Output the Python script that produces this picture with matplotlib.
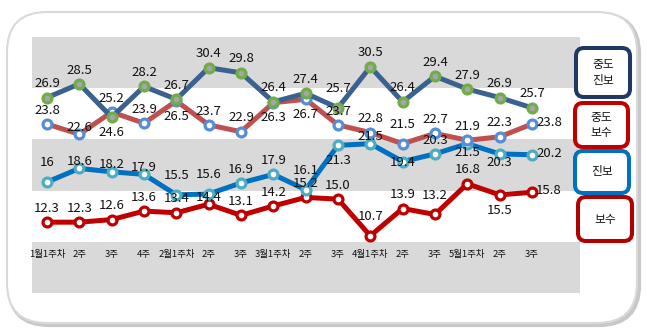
import matplotlib.pyplot as plt
from matplotlib.patches import FancyBboxPatch

plt.rcParams['font.family'] = ['Noto Sans CJK KR', 'DejaVu Sans']

# ---- data ----
weeks = ['1월1주차', '2주', '3주', '4주', '2월1주차', '2주', '3주', '3월1주차',
         '2주', '3주', '4월1주차', '2주', '3주', '5월1주차', '2주', '3주']
mid_prog = [26.9, 28.5, 24.6, 28.2, 26.7, 30.4, 29.8, 26.4, 27.4, 25.7, 30.5, 26.4, 29.4, 27.9, 26.9, 25.7]
mid_cons = [23.8, 22.6, 25.2, 23.9, 26.5, 23.7, 22.9, 26.3, 26.7, 23.7, 22.8, 21.5, 22.7, 21.9, 22.3, 23.8]
prog = [17.0, 18.6, 18.2, 17.9, 15.5, 15.6, 16.9, 17.9, 16.1, 21.3, 21.5, 19.4, 20.3, 21.5, 20.3, 20.2]
cons = [12.3, 12.3, 12.6, 13.6, 13.4, 14.4, 13.1, 14.2, 15.2, 15.0, 10.7, 13.9, 13.2, 16.8, 15.5, 15.8]
prog_label_text = {0: '16'}  # label typed on the original chart

# label placement codes: a above, A high above, c close above, b below,
# d just below, o on point, r right
mid_prog_pos = 'aabaaaaaaAaaaaaa'
mid_cons_pos = 'acaabaabbaaAaaar'
prog_pos = 'AcccAAaaAbcoaddr'
cons_pos = 'aaaaacaaaaAaAabr'

W, H = 647, 336
fig = plt.figure(figsize=(W / 100, H / 100), dpi=100)

# outer rounded frame with soft shadow
shadow = FancyBboxPatch((0.09, 0.11), 6.30, 3.11, boxstyle='round,pad=0,rounding_size=0.4',
                        transform=fig.dpi_scale_trans, fc='none', ec='#c8c8c8', lw=3, zorder=-2)
frame = FancyBboxPatch((0.07, 0.13), 6.30, 3.11, boxstyle='round,pad=0,rounding_size=0.4',
                       transform=fig.dpi_scale_trans, fc='white', ec='#d9d9d9', lw=1.5, zorder=-1)
fig.patches.extend([shadow, frame])

ax = fig.add_axes([32 / W, (H - 293) / H, (580 - 32) / W, (293 - 37) / H])
ax.set_facecolor('none')
ax.set_xlim(-0.464, 16.486)
ax.set_ylim(4, 34)
for lo, hi in [(4, 10), (16, 22), (28, 34)]:
    ax.axhspan(lo, hi, color='#d9d9d9', lw=0, zorder=0)
for s in ax.spines.values():
    s.set_visible(False)
ax.set_xticks([])
ax.set_yticks([])

x = list(range(len(weeks)))

series = [
    (cons, '#c00000', '#c00000', 'white', cons_pos, {}),
    (prog, '#0070c0', '#4bacc6', 'white', prog_pos, prog_label_text),
    (mid_cons, '#c0504d', '#558ed5', 'white', mid_cons_pos, {}),
    (mid_prog, '#3a6190', '#70ad47', '#a6a6a6', mid_prog_pos, {}),
]

offsets = {'a': (0, 10), 'A': (0, 14), 'c': (0, 5), 'b': (0, -11), 'd': (0, -6),
           'o': (0, -1), 'r': (3, 1)}

for i, (vals, lc, mc, mf, pos, override) in enumerate(series):
    ax.plot(x, vals, color=lc, lw=3.6, marker='o', ms=6.4, mec=mc, mfc=mf,
            mew=2.3, zorder=2 + i, solid_joinstyle='round')
    for j, v in enumerate(vals):
        dx, dy = offsets[pos[j]]
        ax.annotate(override.get(j, f'{v:.1f}'), (j, v), xytext=(dx, dy),
                    textcoords='offset points', ha='left' if pos[j] == 'r' else 'center',
                    va='center', fontsize=9.5, color='#111111', zorder=10,
                    annotation_clip=False)

for j, w in enumerate(weeks):
    ax.text(j, 8.55, w, ha='center', va='center', fontsize=6.8, color='#111111')

# legend boxes
legend_items = [
    ('중도\n진보', '#1f3864', (5.76, 2.39, 0.54, 0.49)),
    ('중도\n보수', '#c00000', (5.75, 1.89, 0.53, 0.44)),
    ('진보', '#0070c0', (5.75, 1.43, 0.54, 0.42)),
    ('보수', '#b00000', (5.78, 0.95, 0.54, 0.44)),
]
for text, ec, (bx, by, bw, bh) in legend_items:
    box = FancyBboxPatch((bx, by), bw, bh, boxstyle='round,pad=0,rounding_size=0.08',
                         transform=fig.dpi_scale_trans, fc='white', ec=ec, lw=2.9, zorder=5)
    fig.patches.append(box)
    fig.text((bx + bw / 2) * 100 / W, (by + bh / 2) * 100 / H, text, ha='center', va='center',
             fontsize=8.5, linespacing=1.25, color='#111111', zorder=6)

fig.savefig('out.png', dpi=100)
